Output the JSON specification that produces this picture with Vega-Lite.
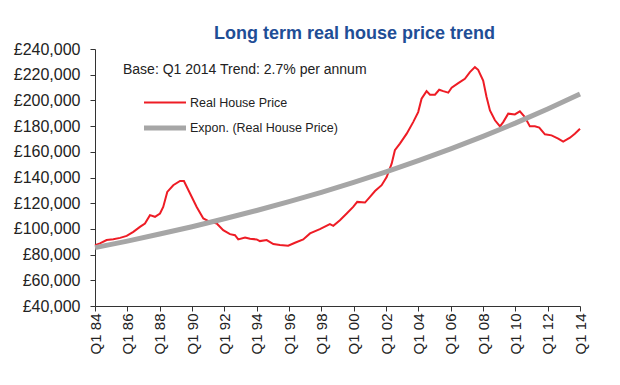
{
  "$schema": "https://vega.github.io/schema/vega-lite/v6.json",
  "width": 485,
  "height": 257,
  "autosize": "none",
  "padding": {"left": 95, "top": 49, "right": 40, "bottom": 79},
  "background": "white",
  "title": {
    "text": "Long term real house price trend",
    "font": "Liberation Sans",
    "fontSize": 18,
    "fontWeight": "bold",
    "color": "#1F4E96",
    "anchor": "middle",
    "frame": "group",
    "dx": 17,
    "offset": -2
  },
  "config": {
    "view": {"stroke": null},
    "axis": {"grid": false, "domainColor": "#333333", "tickColor": "#333333", "labelColor": "#222222", "labelFont": "Liberation Sans", "tickSize": 5, "title": null}
  },
  "encoding": {
    "x": {
      "field": "t", "type": "quantitative",
      "scale": {"domain": [1984, 2014], "nice": false, "zero": false},
      "axis": {
        "values": [1984, 1986, 1988, 1990, 1992, 1994, 1996, 1998, 2000, 2002, 2004, 2006, 2008, 2010, 2012, 2014],
        "labelExpr": "'Q1 ' + substring(toString(datum.value), 2, 4)",
        "labelAngle": -90, "labelFontSize": 15, "labelPadding": 2, "labelBaseline": "middle",
        "labelOverlap": false, "labelBound": false, "labelFlush": false
      }
    },
    "y": {
      "field": "v", "type": "quantitative",
      "scale": {"domain": [40000, 240000], "nice": false, "zero": false},
      "axis": {
        "values": [40000, 60000, 80000, 100000, 120000, 140000, 160000, 180000, 200000, 220000, 240000],
        "labelExpr": "'£' + format(datum.value, ',')",
        "labelFontSize": 16, "labelPadding": 10,
        "labelOverlap": false, "labelBound": false, "labelFlush": false
      }
    }
  },
  "layer": [
    {
      "data": {
        "values": [
          {"t": 1984.0, "v": 87400, "s": "Real House Price"},
          {"t": 1984.31, "v": 88700, "s": "Real House Price"},
          {"t": 1984.72, "v": 91300, "s": "Real House Price"},
          {"t": 1985.13, "v": 92000, "s": "Real House Price"},
          {"t": 1985.55, "v": 93000, "s": "Real House Price"},
          {"t": 1985.96, "v": 94600, "s": "Real House Price"},
          {"t": 1986.37, "v": 97700, "s": "Real House Price"},
          {"t": 1986.78, "v": 101600, "s": "Real House Price"},
          {"t": 1987.09, "v": 104200, "s": "Real House Price"},
          {"t": 1987.40, "v": 110700, "s": "Real House Price"},
          {"t": 1987.71, "v": 109400, "s": "Real House Price"},
          {"t": 1988.02, "v": 112000, "s": "Real House Price"},
          {"t": 1988.22, "v": 117100, "s": "Real House Price"},
          {"t": 1988.47, "v": 128800, "s": "Real House Price"},
          {"t": 1988.84, "v": 134000, "s": "Real House Price"},
          {"t": 1989.26, "v": 137300, "s": "Real House Price"},
          {"t": 1989.50, "v": 137300, "s": "Real House Price"},
          {"t": 1989.88, "v": 127500, "s": "Real House Price"},
          {"t": 1990.29, "v": 117100, "s": "Real House Price"},
          {"t": 1990.70, "v": 108100, "s": "Real House Price"},
          {"t": 1991.11, "v": 105500, "s": "Real House Price"},
          {"t": 1991.53, "v": 104200, "s": "Real House Price"},
          {"t": 1991.93, "v": 99000, "s": "Real House Price"},
          {"t": 1992.35, "v": 95900, "s": "Real House Price"},
          {"t": 1992.66, "v": 95100, "s": "Real House Price"},
          {"t": 1992.86, "v": 91800, "s": "Real House Price"},
          {"t": 1993.28, "v": 93300, "s": "Real House Price"},
          {"t": 1993.59, "v": 92300, "s": "Real House Price"},
          {"t": 1994.00, "v": 91800, "s": "Real House Price"},
          {"t": 1994.20, "v": 90500, "s": "Real House Price"},
          {"t": 1994.62, "v": 91300, "s": "Real House Price"},
          {"t": 1995.03, "v": 88200, "s": "Real House Price"},
          {"t": 1995.44, "v": 87400, "s": "Real House Price"},
          {"t": 1995.95, "v": 86900, "s": "Real House Price"},
          {"t": 1996.37, "v": 89200, "s": "Real House Price"},
          {"t": 1996.88, "v": 91800, "s": "Real House Price"},
          {"t": 1997.30, "v": 96500, "s": "Real House Price"},
          {"t": 1997.91, "v": 99800, "s": "Real House Price"},
          {"t": 1998.53, "v": 103700, "s": "Real House Price"},
          {"t": 1998.74, "v": 102400, "s": "Real House Price"},
          {"t": 1999.15, "v": 106800, "s": "Real House Price"},
          {"t": 1999.57, "v": 112000, "s": "Real House Price"},
          {"t": 1999.97, "v": 117100, "s": "Real House Price"},
          {"t": 2000.22, "v": 121000, "s": "Real House Price"},
          {"t": 2000.70, "v": 120500, "s": "Real House Price"},
          {"t": 2001.01, "v": 124900, "s": "Real House Price"},
          {"t": 2001.32, "v": 129500, "s": "Real House Price"},
          {"t": 2001.73, "v": 134000, "s": "Real House Price"},
          {"t": 2002.04, "v": 140400, "s": "Real House Price"},
          {"t": 2002.35, "v": 150800, "s": "Real House Price"},
          {"t": 2002.55, "v": 161200, "s": "Real House Price"},
          {"t": 2002.86, "v": 166400, "s": "Real House Price"},
          {"t": 2003.28, "v": 174100, "s": "Real House Price"},
          {"t": 2003.68, "v": 183100, "s": "Real House Price"},
          {"t": 2003.99, "v": 190900, "s": "Real House Price"},
          {"t": 2004.20, "v": 201300, "s": "Real House Price"},
          {"t": 2004.51, "v": 207200, "s": "Real House Price"},
          {"t": 2004.72, "v": 204400, "s": "Real House Price"},
          {"t": 2005.03, "v": 204400, "s": "Real House Price"},
          {"t": 2005.29, "v": 208300, "s": "Real House Price"},
          {"t": 2005.54, "v": 207200, "s": "Real House Price"},
          {"t": 2005.85, "v": 206000, "s": "Real House Price"},
          {"t": 2006.06, "v": 209900, "s": "Real House Price"},
          {"t": 2006.47, "v": 213400, "s": "Real House Price"},
          {"t": 2006.88, "v": 216800, "s": "Real House Price"},
          {"t": 2007.19, "v": 222000, "s": "Real House Price"},
          {"t": 2007.50, "v": 225900, "s": "Real House Price"},
          {"t": 2007.70, "v": 223800, "s": "Real House Price"},
          {"t": 2008.01, "v": 215500, "s": "Real House Price"},
          {"t": 2008.22, "v": 202600, "s": "Real House Price"},
          {"t": 2008.43, "v": 192200, "s": "Real House Price"},
          {"t": 2008.74, "v": 184500, "s": "Real House Price"},
          {"t": 2009.05, "v": 179800, "s": "Real House Price"},
          {"t": 2009.25, "v": 183100, "s": "Real House Price"},
          {"t": 2009.56, "v": 189700, "s": "Real House Price"},
          {"t": 2009.97, "v": 189100, "s": "Real House Price"},
          {"t": 2010.28, "v": 191500, "s": "Real House Price"},
          {"t": 2010.59, "v": 187000, "s": "Real House Price"},
          {"t": 2010.90, "v": 179800, "s": "Real House Price"},
          {"t": 2011.21, "v": 179800, "s": "Real House Price"},
          {"t": 2011.48, "v": 178800, "s": "Real House Price"},
          {"t": 2011.83, "v": 173600, "s": "Real House Price"},
          {"t": 2012.24, "v": 172800, "s": "Real House Price"},
          {"t": 2012.65, "v": 170300, "s": "Real House Price"},
          {"t": 2012.96, "v": 168000, "s": "Real House Price"},
          {"t": 2013.38, "v": 171000, "s": "Real House Price"},
          {"t": 2013.68, "v": 174100, "s": "Real House Price"},
          {"t": 2014.0, "v": 178000, "s": "Real House Price"},
          {"t": 1984, "v": 85400, "s": "Expon. (Real House Price)"},
          {"t": 1986, "v": 90500, "s": "Expon. (Real House Price)"},
          {"t": 1988, "v": 96000, "s": "Expon. (Real House Price)"},
          {"t": 1990, "v": 101700, "s": "Expon. (Real House Price)"},
          {"t": 1992, "v": 107900, "s": "Expon. (Real House Price)"},
          {"t": 1994, "v": 114300, "s": "Expon. (Real House Price)"},
          {"t": 1996, "v": 121200, "s": "Expon. (Real House Price)"},
          {"t": 1998, "v": 128500, "s": "Expon. (Real House Price)"},
          {"t": 2000, "v": 136200, "s": "Expon. (Real House Price)"},
          {"t": 2002, "v": 144400, "s": "Expon. (Real House Price)"},
          {"t": 2004, "v": 153100, "s": "Expon. (Real House Price)"},
          {"t": 2006, "v": 162300, "s": "Expon. (Real House Price)"},
          {"t": 2008, "v": 172000, "s": "Expon. (Real House Price)"},
          {"t": 2010, "v": 182300, "s": "Expon. (Real House Price)"},
          {"t": 2012, "v": 193300, "s": "Expon. (Real House Price)"},
          {"t": 2014, "v": 204900, "s": "Expon. (Real House Price)"}
        ]
      },
      "mark": {"type": "line", "strokeCap": "butt"},
      "encoding": {
        "order": {"field": "t", "type": "quantitative"},
        "color": {
          "field": "s", "type": "nominal",
          "scale": {"domain": ["Real House Price", "Expon. (Real House Price)"], "range": ["#EE1C25", "#A6A6A6"]},
          "legend": {
            "title": null, "orient": "none", "legendX": 57, "legendY": 42,
            "symbolType": "M-2,0H2", "symbolSize": 441, "labelFont": "Liberation Sans", "labelFontSize": 12.5, "labelColor": "#222222",
            "labelOffset": 12, "rowPadding": 6
          }
        },
        "strokeWidth": {
          "field": "s", "type": "nominal",
          "scale": {"domain": ["Real House Price", "Expon. (Real House Price)"], "range": [2, 5]},
          "legend": {
            "title": null, "orient": "none", "legendX": 57, "legendY": 42,
            "symbolType": "M-2,0H2", "symbolSize": 441, "labelFont": "Liberation Sans", "labelFontSize": 12.5, "labelColor": "#222222",
            "labelOffset": 12, "rowPadding": 6
          }
        }
      }
    },
    {
      "data": {"values": [{"t": 1985.73, "v": 223400, "label": "Base: Q1 2014 Trend: 2.7% per annum"}]},
      "mark": {"type": "text", "align": "left", "baseline": "middle", "font": "Liberation Sans", "fontSize": 14, "color": "#222222"},
      "encoding": {
        "text": {"field": "label"}
      }
    }
  ]
}
